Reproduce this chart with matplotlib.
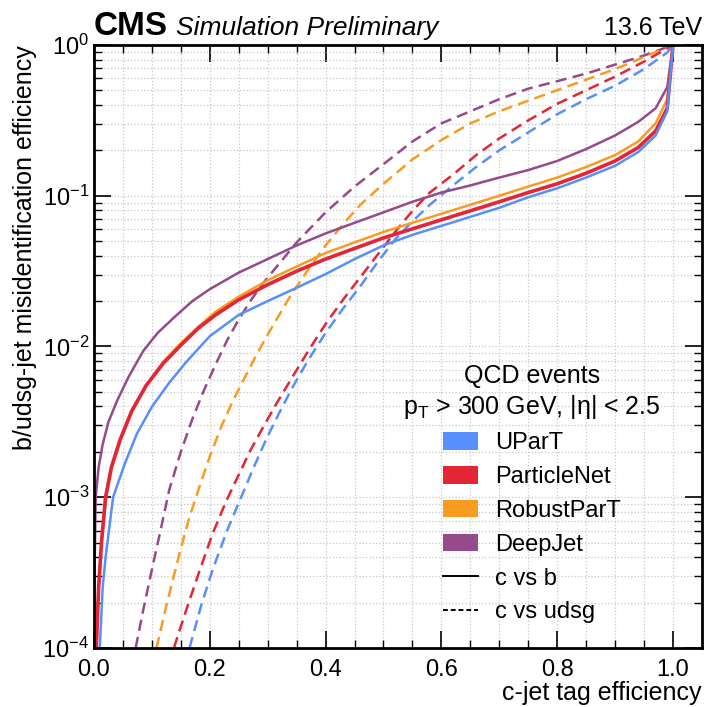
import matplotlib
matplotlib.use("Agg")
import matplotlib.pyplot as plt
from matplotlib.patches import Patch
from matplotlib.lines import Line2D
from matplotlib.ticker import MultipleLocator

plt.rcParams['font.family'] = ['Liberation Sans', 'DejaVu Sans']
plt.rcParams['mathtext.fontset'] = 'custom'
plt.rcParams['mathtext.rm'] = 'Liberation Sans'
plt.rcParams['mathtext.it'] = 'Liberation Sans:italic'
plt.rcParams['mathtext.bf'] = 'Liberation Sans:bold'

# taggers and colours (CMS palette)
taggers = ["UParT", "ParticleNet", "RobustParT", "DeepJet"]
colors = ["#5790fc", "#e42536", "#f89c20", "#964a8b"]

# c vs b  (c-jet efficiency, b-jet misid)
upart_b_x = [0.010, 0.015, 0.020, 0.033, 0.053, 0.074, 0.10, 0.13, 0.16, 0.20, 0.25, 0.30, 0.35, 0.40, 0.45, 0.50, 0.55, 0.60, 0.65, 0.70, 0.75, 0.80, 0.85, 0.90, 0.94, 0.97, 0.99, 1.0]
upart_b_y = [1e-4, 2.51e-4, 3.98e-4, 1.0e-3, 1.66e-3, 2.63e-3, 3.98e-3, 5.75e-3, 7.94e-3, 1.17e-2, 1.62e-2, 2.0e-2, 2.45e-2, 3.02e-2, 3.80e-2, 4.68e-2, 5.50e-2, 6.31e-2, 7.24e-2, 8.32e-2, 9.77e-2, 0.112, 0.132, 0.158, 0.195, 0.251, 0.363, 1.0]

pnet_b_x = [0.004, 0.008, 0.013, 0.020, 0.030, 0.045, 0.065, 0.09, 0.12, 0.15, 0.18, 0.21, 0.25, 0.30, 0.35, 0.40, 0.45, 0.50, 0.55, 0.60, 0.65, 0.70, 0.75, 0.80, 0.85, 0.90, 0.94, 0.97, 0.99, 1.0]
pnet_b_y = [1e-4, 2.51e-4, 5.01e-4, 1.0e-3, 1.58e-3, 2.40e-3, 3.72e-3, 5.50e-3, 7.76e-3, 1.02e-2, 1.32e-2, 1.62e-2, 2.04e-2, 2.57e-2, 3.16e-2, 3.80e-2, 4.47e-2, 5.25e-2, 6.03e-2, 6.92e-2, 7.94e-2, 9.12e-2, 0.105, 0.120, 0.141, 0.170, 0.209, 0.269, 0.380, 1.0]

rpart_b_x = [0.004, 0.008, 0.013, 0.021, 0.031, 0.046, 0.066, 0.09, 0.12, 0.15, 0.18, 0.21, 0.25, 0.30, 0.35, 0.40, 0.45, 0.50, 0.55, 0.60, 0.65, 0.70, 0.75, 0.80, 0.85, 0.90, 0.94, 0.97, 0.99, 1.0]
rpart_b_y = [1e-4, 2.51e-4, 5.01e-4, 1.0e-3, 1.58e-3, 2.40e-3, 3.72e-3, 5.50e-3, 7.94e-3, 1.05e-2, 1.35e-2, 1.70e-2, 2.14e-2, 2.75e-2, 3.39e-2, 4.17e-2, 4.90e-2, 5.75e-2, 6.61e-2, 7.59e-2, 8.71e-2, 0.100, 0.115, 0.132, 0.155, 0.186, 0.229, 0.302, 0.437, 1.0]

djet_b_x = [0.0, 0.001, 0.003, 0.008, 0.015, 0.025, 0.04, 0.06, 0.085, 0.11, 0.14, 0.17, 0.20, 0.25, 0.30, 0.35, 0.40, 0.45, 0.50, 0.55, 0.60, 0.65, 0.70, 0.75, 0.80, 0.85, 0.90, 0.94, 0.97, 0.99, 1.0]
djet_b_y = [1e-4, 3.16e-4, 1.0e-3, 1.58e-3, 2.24e-3, 3.16e-3, 4.37e-3, 6.31e-3, 9.33e-3, 1.23e-2, 1.58e-2, 2.0e-2, 2.40e-2, 3.09e-2, 3.80e-2, 4.68e-2, 5.62e-2, 6.61e-2, 7.76e-2, 9.12e-2, 0.105, 0.117, 0.132, 0.148, 0.170, 0.204, 0.251, 0.309, 0.380, 0.525, 1.0]

# c vs udsg  (c-jet efficiency, light-jet misid)
upart_l_x = [0.165, 0.185, 0.205, 0.23, 0.252, 0.275, 0.298, 0.32, 0.343, 0.37, 0.40, 0.43, 0.46, 0.49, 0.52, 0.55, 0.58, 0.62, 0.66, 0.70, 0.75, 0.80, 0.85, 0.90, 0.95, 0.99, 1.0]
upart_l_y = [1e-4, 1.91e-4, 3.31e-4, 6.03e-4, 9.55e-4, 1.55e-3, 2.45e-3, 3.63e-3, 5.37e-3, 8.13e-3, 1.23e-2, 1.78e-2, 2.51e-2, 3.63e-2, 5.13e-2, 6.76e-2, 8.71e-2, 0.117, 0.155, 0.200, 0.263, 0.347, 0.437, 0.537, 0.692, 0.891, 1.0]

pnet_l_x = [0.138, 0.16, 0.183, 0.205, 0.229, 0.25, 0.27, 0.29, 0.315, 0.34, 0.37, 0.40, 0.43, 0.46, 0.49, 0.52, 0.55, 0.58, 0.62, 0.66, 0.70, 0.75, 0.80, 0.85, 0.90, 0.95, 1.0]
pnet_l_y = [1e-4, 1.82e-4, 3.31e-4, 5.75e-4, 9.55e-4, 1.41e-3, 2.04e-3, 2.82e-3, 4.17e-3, 6.03e-3, 9.33e-3, 1.41e-2, 2.04e-2, 2.88e-2, 4.07e-2, 5.75e-2, 7.94e-2, 0.105, 0.138, 0.186, 0.240, 0.316, 0.407, 0.501, 0.617, 0.776, 1.0]

rpart_l_x = [0.108, 0.125, 0.148, 0.165, 0.183, 0.20, 0.22, 0.24, 0.26, 0.28, 0.30, 0.32, 0.34, 0.37, 0.40, 0.43, 0.46, 0.50, 0.55, 0.60, 0.65, 0.70, 0.75, 0.80, 0.85, 0.90, 0.95, 1.0]
rpart_l_y = [1e-4, 1.91e-4, 4.27e-4, 7.41e-4, 1.20e-3, 1.86e-3, 2.95e-3, 4.37e-3, 6.17e-3, 8.71e-3, 1.20e-2, 1.62e-2, 2.19e-2, 3.24e-2, 4.68e-2, 6.46e-2, 8.71e-2, 0.120, 0.174, 0.234, 0.302, 0.363, 0.427, 0.501, 0.589, 0.692, 0.832, 1.0]

djet_l_x = [0.072, 0.085, 0.10, 0.115, 0.13, 0.15, 0.17, 0.19, 0.21, 0.23, 0.25, 0.27, 0.29, 0.32, 0.35, 0.40, 0.45, 0.50, 0.55, 0.60, 0.65, 0.70, 0.75, 0.80, 0.85, 0.90, 0.95, 1.0]
djet_l_y = [1e-4, 1.78e-4, 3.31e-4, 6.03e-4, 1.12e-3, 2.0e-3, 3.31e-3, 5.13e-3, 7.59e-3, 1.10e-2, 1.51e-2, 2.0e-2, 2.57e-2, 3.55e-2, 4.90e-2, 7.76e-2, 0.115, 0.162, 0.229, 0.302, 0.363, 0.437, 0.513, 0.575, 0.646, 0.741, 0.851, 1.0]

curves_b = [(upart_b_x, upart_b_y), (pnet_b_x, pnet_b_y), (rpart_b_x, rpart_b_y), (djet_b_x, djet_b_y)]
curves_l = [(upart_l_x, upart_l_y), (pnet_l_x, pnet_l_y), (rpart_l_x, rpart_l_y), (djet_l_x, djet_l_y)]
widths_b = [1.8, 2.6, 1.8, 1.8]

fig = plt.figure(figsize=(7.05, 7.07), dpi=100)
ax = fig.add_axes([0.1333, 0.0835, 0.8624, 0.8529])

# DeepJet first so the others sit on top, like the reference
for i in [3, 2, 1, 0]:
    ax.plot(curves_l[i][0], curves_l[i][1], color=colors[i], lw=1.8, ls=(0, (4.5, 2.5)))
for i in [3, 2, 1, 0]:
    ax.plot(curves_b[i][0], curves_b[i][1], color=colors[i], lw=widths_b[i])

ax.set_yscale('log')
ax.set_xlim(0, 1.05)
ax.set_ylim(1e-4, 1)
ax.xaxis.set_major_locator(MultipleLocator(0.2))
ax.xaxis.set_minor_locator(MultipleLocator(0.05))
ax.tick_params(which='both', direction='in', top=True, right=True, labelsize=17)
ax.tick_params(which='major', length=12, width=1.2)
ax.tick_params(which='minor', length=6, width=1.0)
ax.tick_params(axis='x', pad=8)
for s in ax.spines.values():
    s.set_linewidth(2)
ax.grid(which='both', ls=':', color='#c8c8c8', lw=0.9)
ax.set_axisbelow(True)

ax.set_xlabel("c-jet tag efficiency", fontsize=18, loc='right', labelpad=0)
ax.set_ylabel("b/udsg-jet misidentification efficiency", fontsize=18, loc='top')

# experiment labels
ax.text(0.0, 1.016, "CMS", transform=ax.transAxes, fontsize=24, fontweight='bold', va='baseline')
ax.text(0.135, 1.016, "Simulation Preliminary", transform=ax.transAxes, fontsize=19, style='italic', va='baseline')
ax.text(1.0, 1.016, "13.6 TeV", transform=ax.transAxes, fontsize=18, ha='right', va='baseline')

handles = [Patch(facecolor=c, edgecolor='none') for c in colors]
handles += [Line2D([], [], color='black', lw=1.4, ls='-'), Line2D([], [], color='black', lw=1.4, ls=(0, (2.5, 1.5)))]
labels = taggers + ["c vs b", "c vs udsg"]
leg = ax.legend(handles, labels, title="QCD events\np$_\\mathrm{T}$ > 300 GeV, |η| < 2.5",
                loc='upper center', bbox_to_anchor=(0.72, 0.49), frameon=False,
                fontsize=17, title_fontsize=18, handlelength=1.5, handleheight=0.75,
                handletextpad=0.7, labelspacing=0.5, borderpad=0)
leg.get_title().set_multialignment('center')

fig.savefig("out.png", dpi=100)
